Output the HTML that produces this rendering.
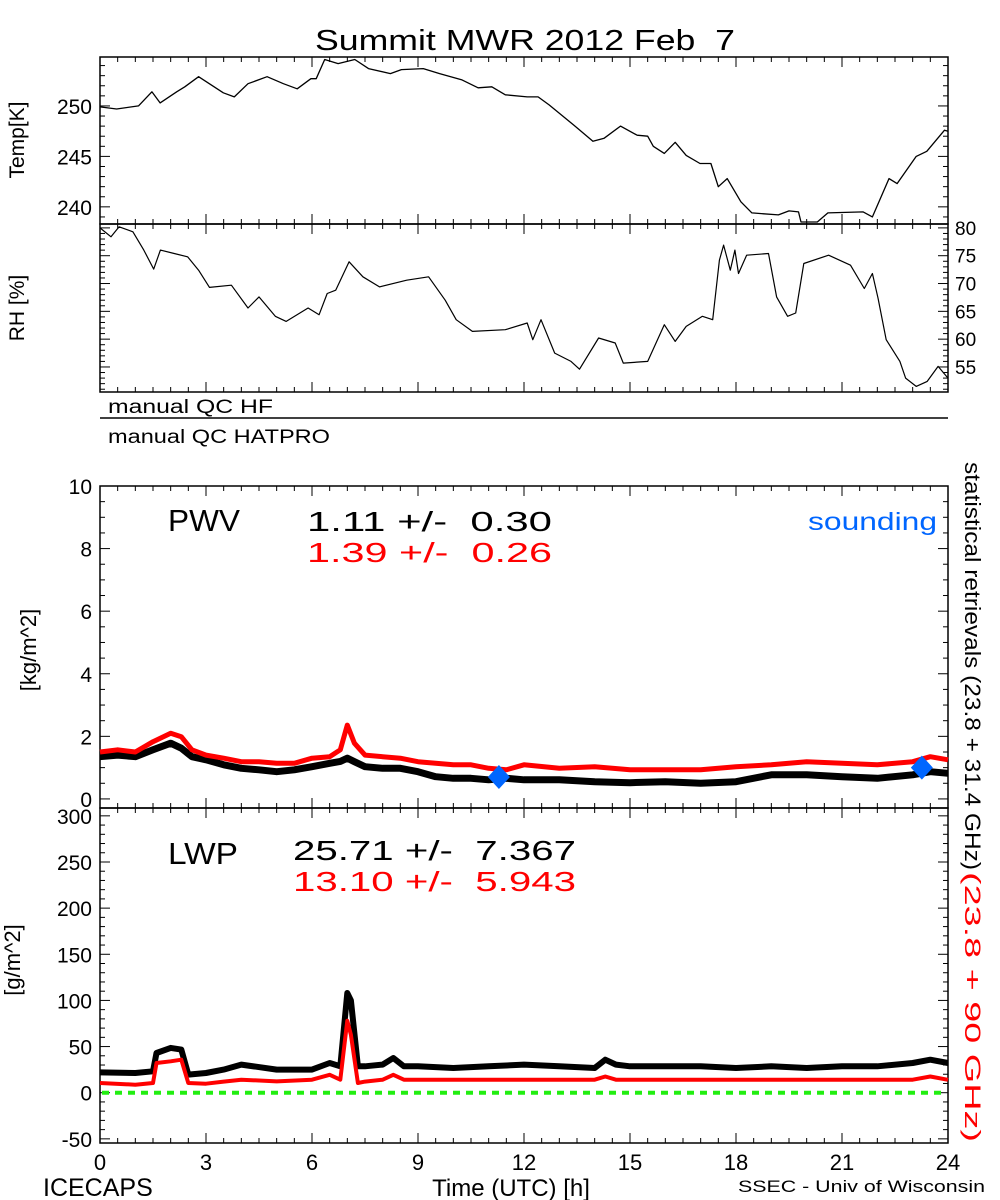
<!DOCTYPE html>
<html><head><meta charset="utf-8"><style>
html,body{margin:0;padding:0;background:#fff;}
svg{display:block;font-family:"Liberation Sans",sans-serif;}
</style></head><body>
<svg id="chart" width="1000" height="1200" viewBox="0 0 1000 1200" xmlns="http://www.w3.org/2000/svg">
<rect width="1000" height="1200" fill="#fff"/>
<text x="315" y="50" font-size="29" textLength="420" lengthAdjust="spacingAndGlyphs" xml:space="preserve">Summit MWR 2012 Feb  7</text>
<g id="g"></g>
</svg>
<script>
// ---- data ----
const tempHours=[0,0.47,1.09,1.47,1.7,2.17,2.4,2.79,3.49,3.8,4.19,4.73,5.19,5.58,5.97,6.12,6.36,6.74,7.21,7.6,8.22,8.53,9.15,9.61,10.23,10.7,11.09,11.47,12.09,12.4,12.71,13.41,13.95,14.27,14.73,15.2,15.5,15.66,15.97,16.28,16.59,16.98,17.29,17.5,17.75,18.14,18.45,19.2,19.5,19.77,19.84,20.3,20.6,21.6,21.86,22.33,22.56,23.1,23.4,23.9,24];
const tempVals=[249.9,249.7,250,251.4,250.3,251.4,251.9,252.9,251.3,250.9,252.2,252.9,252.2,251.7,252.7,252.7,254.6,254.2,254.6,253.7,253.2,253.6,253.7,253.2,252.6,251.8,251.9,251.1,250.9,250.9,250.1,248.1,246.5,246.8,248,247.1,247,246,245.3,246.4,245.1,244.3,244.3,242,242.8,240.5,239.4,239.2,239.6,239.5,238.5,238.5,239.4,239.5,239,242.8,242.3,245,245.5,247.6,247.5];
const rhHours=[0,0.31,0.54,0.93,1.24,1.52,1.71,2.1,2.48,2.79,3.1,3.72,4.19,4.5,4.96,5.27,5.89,6.2,6.43,6.67,7.05,7.44,7.91,8.68,9.3,9.77,10.08,10.54,11.47,12.09,12.25,12.48,12.87,13.33,13.57,14.11,14.58,14.81,15.5,15.97,16.28,16.59,17.05,17.34,17.53,17.65,17.84,17.97,18.07,18.3,18.92,19.15,19.46,19.69,19.92,20.62,21.24,21.63,21.86,22.02,22.25,22.64,22.8,23.1,23.41,23.72,24];
const rhVals=[80,78.4,80.2,79.3,76,72.6,76,75.4,74.8,72.4,69.3,69.7,65.6,67.6,64.1,63.2,65.6,64.4,68.2,68.8,73.9,71.2,69.4,70.6,71.2,67,63.5,61.4,61.7,62.9,59.9,63.5,57.5,56,54.6,60.2,59.3,55.7,56,62.6,59.6,62.3,64.1,63.5,74.2,76.9,72.4,76,71.8,75.1,75.4,67.6,64.1,64.7,73.6,75.1,73.3,69.1,71.8,67.4,59.9,56,53,51.5,52.4,55.1,53];
const pwvHours=[0,0.5,1,1.5,2,2.3,2.6,3,3.5,4,4.5,5,5.5,6,6.5,6.8,7,7.2,7.5,8,8.5,9,9.5,10,10.5,11,11.5,12,13,14,15,16,17,18,19,20,21,22,23,23.5,24];
const pwvBlack=[1.35,1.40,1.35,1.57,1.78,1.62,1.35,1.25,1.09,0.98,0.93,0.87,0.93,1.03,1.14,1.2,1.30,1.19,1.03,0.98,0.98,0.87,0.71,0.66,0.66,0.61,0.66,0.61,0.61,0.55,0.52,0.55,0.50,0.55,0.77,0.77,0.71,0.66,0.77,0.87,0.82];
const pwvRed=[1.50,1.57,1.50,1.83,2.10,1.99,1.57,1.40,1.30,1.19,1.19,1.14,1.14,1.30,1.35,1.57,2.36,1.78,1.40,1.35,1.30,1.19,1.14,1.09,1.09,0.98,0.93,1.09,0.98,1.03,0.93,0.93,0.93,1.03,1.09,1.19,1.14,1.09,1.19,1.35,1.25];
const soundHours=[11.29,23.26];
const soundVals=[0.70,1.0];
const lwpHours=[0,1,1.5,1.6,2,2.3,2.5,3,3.5,4,5,6,6.5,6.8,7,7.1,7.3,7.5,8,8.3,8.6,9,10,11,12,13,14,14.3,14.6,15,16,17,18,19,20,21,22,23,23.5,24];
const lwpBlack=[22,21.4,23.2,43,48.5,46.7,19.6,21.4,25,30.4,25,25,32.2,28.6,108,100,28.6,28.6,30.4,37.6,28.6,28.6,26.8,28.6,30.4,28.6,26.8,35.8,30.4,28.6,28.6,28.6,26.8,28.6,26.8,28.6,28.6,32.2,35.8,32.2];
const lwpRed=[10.5,8.7,10.5,32.2,34,35.8,10.5,9.8,12,14.1,12.3,14.1,19.4,14.1,78,62.7,10.5,12,14.1,19.4,14.1,14.1,14.1,14.1,14.1,14.1,14.1,17.6,14.1,14.1,14.1,14.1,14.1,14.1,14.1,14.1,14.1,14.1,17.6,14];
const xTicks=[0,3,6,9,12,15,18,21,24];
const tempTicks=[240,245,250];
const rhTicks=[55,60,65,70,75,80];
const pwvTicks=[0,2,4,6,8,10];
const lwpTicks=[-50,0,50,100,150,200,250,300];

// ---- layout ----
const X0=100,X1=948;
const xs=h=>X0+(X1-X0)*h/24;
const P={
 temp:{t:57,b:224,lo:238.3,hi:254.85},
 rh:{t:224,b:392,lo:50.5,hi:80.7},
 pwv:{t:486,b:808,lo:-0.29,hi:10},
 lwp:{t:808,b:1143,lo:-54.5,hi:308.5}
};
const ys=(p,v)=>p.b-(p.b-p.t)*(v-p.lo)/(p.hi-p.lo);
const NS="http://www.w3.org/2000/svg";
const G=document.getElementById('g');
function mk(tag,at,txt){const e=document.createElementNS(NS,tag);for(const k in at)e.setAttribute(k,at[k]);if(txt!==undefined)e.textContent=txt;G.appendChild(e);return e;}
function line(name,hs,vs,p,col,w){
 const d=hs.map((h,i)=>(i?'L':'M')+xs(h).toFixed(1)+','+ys(p,vs[i]).toFixed(1)).join('');
 const e=mk('path',{d:d,fill:'none',stroke:col,'stroke-width':w,'stroke-linejoin':'round'});
 
 
}
function frame(name,p){
 const e=mk('rect',{x:X0,y:p.t,width:X1-X0,height:p.b-p.t,fill:'none',stroke:'#000','stroke-width':1.5});
 
 
 for(let h=0;h<=24;h+=0.5){const maj=h%3===0;const L=maj?10:5;
  mk('line',{x1:xs(h),x2:xs(h),y1:p.b,y2:p.b-L,stroke:'#000'});
  mk('line',{x1:xs(h),x2:xs(h),y1:p.t,y2:p.t+L,stroke:'#000'});}
}
function yticks(p,minor,major,sides){
 const s=Math.ceil(p.lo/minor)*minor;
 for(let v=s;v<=p.hi+1e-9;v+=minor){const y=ys(p,v);const maj=Math.abs(v/major-Math.round(v/major))<1e-6;const L=maj?10:5;
  if(sides.includes('l'))mk('line',{x1:X0,x2:X0+L,y1:y,y2:y,stroke:'#000'});
  if(sides.includes('r'))mk('line',{x1:X1,x2:X1-L,y1:y,y2:y,stroke:'#000'});}
}
frame('temp-panel',P.temp);yticks(P.temp,1,5,'lr');
frame('rh-panel',P.rh);yticks(P.rh,1,5,'lr');
frame('pwv-panel',P.pwv);yticks(P.pwv,0.5,2,'lr');
frame('lwp-panel',P.lwp);yticks(P.lwp,10,50,'lr');

tempTicks.forEach(v=>{const t=mk('text',{x:92,y:ys(P.temp,v)+8,'font-size':21,'text-anchor':'end'},String(v));});
rhTicks.forEach(v=>{const t=mk('text',{x:955,y:ys(P.rh,v)+7,'font-size':19},String(v));});
pwvTicks.forEach(v=>{const t=mk('text',{x:92,y:ys(P.pwv,v)+8,'font-size':21,'text-anchor':'end'},String(v));});
lwpTicks.forEach(v=>{const t=mk('text',{x:92,y:ys(P.lwp,v)+8,'font-size':21,'text-anchor':'end'},String(v));});
xTicks.forEach(v=>{const t=mk('text',{x:xs(v),y:1170,'font-size':22,'text-anchor':'middle'},String(v));});

line('temp-line',tempHours,tempVals,P.temp,'#000',1.3);
line('rh-line',rhHours,rhVals,P.rh,'#000',1.2);
line('pwv-black-band',pwvHours,pwvBlack,P.pwv,'#000',7);
line('pwv-red-band',pwvHours,pwvRed,P.pwv,'#ff0000',5);
line('lwp-black-band',lwpHours,lwpBlack,P.lwp,'#000',6);
line('lwp-red-band',lwpHours,lwpRed,P.lwp,'#ff0000',4);
{const y0=ys(P.lwp,0);const e=mk('line',{x1:X0+2,x2:X1-2,y1:y0,y2:y0,stroke:'#22ee11','stroke-width':4,'stroke-dasharray':'7,6'});

}
soundHours.forEach((h,i)=>{const x=xs(h),y=ys(P.pwv,soundVals[i]);
 const e=mk('polygon',{points:`${x},${y-12} ${x+11},${y} ${x},${y+12} ${x-11},${y}`,fill:'#0066ff'});
 
 });
</script>
<svg style="position:absolute;left:0;top:0" width="1000" height="1200" xmlns="http://www.w3.org/2000/svg" font-family="Liberation Sans, sans-serif">
<text transform="translate(24,140) rotate(-90)" font-size="21" text-anchor="middle">Temp[K]</text>
<text transform="translate(24,308) rotate(-90)" font-size="21" text-anchor="middle">RH [%]</text>
<text transform="translate(36,650) rotate(-90)" font-size="22" text-anchor="middle">[kg/m^2]</text>
<text transform="translate(20,960) rotate(-90)" font-size="22" text-anchor="middle">[g/m^2]</text>
<text x="108" y="413" font-size="19" textLength="165" lengthAdjust="spacingAndGlyphs">manual QC HF</text>
<line x1="100" x2="948" y1="418" y2="418" stroke="#000" stroke-width="1.5"/>
<text x="108" y="443" font-size="19" textLength="222" lengthAdjust="spacingAndGlyphs">manual QC HATPRO</text>
<text x="168" y="531" font-size="31" textLength="72" lengthAdjust="spacingAndGlyphs">PWV</text>
<text x="307" y="531" font-size="28" textLength="245" lengthAdjust="spacingAndGlyphs" xml:space="preserve">1.11 +/-  0.30</text>
<text x="307" y="562" font-size="28" fill="#ff0000" textLength="245" lengthAdjust="spacingAndGlyphs" xml:space="preserve">1.39 +/-  0.26</text>
<text x="808" y="530" font-size="25" fill="#0066ff" textLength="129" lengthAdjust="spacingAndGlyphs">sounding</text>
<text x="168" y="864" font-size="31" textLength="70" lengthAdjust="spacingAndGlyphs">LWP</text>
<text x="293" y="860" font-size="28" textLength="283" lengthAdjust="spacingAndGlyphs" xml:space="preserve">25.71 +/-  7.367</text>
<text x="293" y="891" font-size="28" fill="#ff0000" textLength="283" lengthAdjust="spacingAndGlyphs" xml:space="preserve">13.10 +/-  5.943</text>
<text transform="translate(965,462) rotate(90)" font-size="22" textLength="408" lengthAdjust="spacingAndGlyphs">statistical retrievals (23.8 + 31.4 GHz)</text>
<text transform="translate(965,872) rotate(90)" font-size="22" fill="#ff0000" textLength="270" lengthAdjust="spacingAndGlyphs">(23.8 + 90 GHz)</text>
<text x="43" y="1196" font-size="25">ICECAPS</text>
<text x="511" y="1196" font-size="24" text-anchor="middle">Time (UTC) [h]</text>
<text x="738" y="1192" font-size="17" textLength="247" lengthAdjust="spacingAndGlyphs">SSEC - Univ of Wisconsin</text>
</svg>
</body></html>
